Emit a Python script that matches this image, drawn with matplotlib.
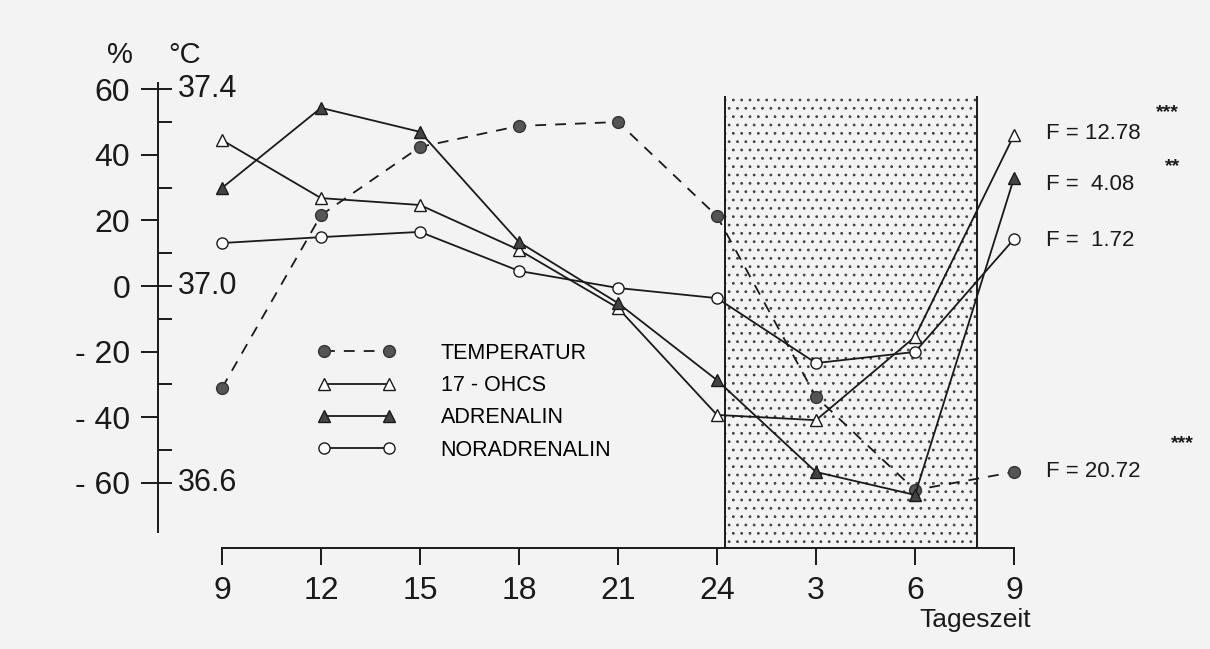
import matplotlib
matplotlib.use('Agg')
import matplotlib.pyplot as plt
from matplotlib.patches import Rectangle
from matplotlib.ticker import FixedLocator

# ---- data -------------------------------------------------------------
hours = ['9', '12', '15', '18', '21', '24', '3', '6', '9']
temperatur = [-31.1, 21.6, 42.4, 48.8, 50.0, 21.3, -33.8, -62.2, -56.7]
ohcs17 = [44.5, 26.8, 24.7, 11.0, -6.7, -39.3, -40.9, -15.5, 46.0]
adrenalin = [29.9, 54.3, 47.0, 13.4, -5.2, -28.7, -56.7, -63.7, 32.9]
noradrenalin = [13.1, 14.9, 16.5, 4.6, -0.6, -3.7, -23.5, -20.1, 14.3]
series_labels = ['TEMPERATUR', '17 - OHCS', 'ADRENALIN', 'NORADRENALIN']
f_labels = ['F = 20.72', 'F = 12.78', 'F =  4.08', 'F =  1.72']
f_stars = ['***', '***', '**', '']
pct_ticks = [60, 40, 20, 0, -20, -40, -60]
pct_labels = ['60', '40', '20', '0', '- 20', '- 40', '- 60']
pct_minor = [50, 30, 10, -10, -30, -50]
temp_ticks = [37.4, 37.0, 36.6]
temp_labels = ['37.4', '37.0', '36.6']
night_start, night_end = 5.08, 7.63   # in tick-index units
night_top = 58

plt.rcParams['font.family'] = ['Liberation Sans Narrow', 'Liberation Sans', 'DejaVu Sans']
plt.rcParams['hatch.linewidth'] = 0.8

BG = '#f3f3f3'
INK = '#1a1a1a'
fig = plt.figure(figsize=(12.1, 6.49), dpi=100, facecolor=BG)
ax = fig.add_axes([0, 0, 1, 1], facecolor=BG)
ax.set_xlim(-2.2424, 9.98)
ax.set_ylim(-110.67, 87.2)

x = list(range(len(hours)))
AXIS_Y = -80
SPINE_X = -0.646

# night shading
ax.add_patch(Rectangle((night_start, AXIS_Y), night_end - night_start,
                       night_top - AXIS_Y, facecolor='none', edgecolor='#444444',
                       lw=0, hatch='..', zorder=1))
ax.vlines([night_start, night_end], AXIS_Y, night_top, color=INK, lw=1.4, zorder=2)

# series
lw = 1.3
l1, = ax.plot(x, temperatur, color=INK, lw=lw, ls=(0, (6, 5)), marker='o', ms=8.5,
              mfc='#555555', mec='#333333', mew=1, label=series_labels[0], zorder=4)
l2, = ax.plot(x, ohcs17, color=INK, lw=lw, marker='^', ms=8.5, mfc='white',
              mec=INK, mew=1, label=series_labels[1], zorder=4)
l3, = ax.plot(x, adrenalin, color=INK, lw=lw, marker='^', ms=8.5, mfc='#444444',
              mec=INK, mew=1, label=series_labels[2], zorder=4)
l4, = ax.plot(x, noradrenalin, color=INK, lw=lw, marker='o', ms=8, mfc='white',
              mec=INK, mew=1, label=series_labels[3], zorder=4)

# axes / spines
for s in ('top', 'right'):
    ax.spines[s].set_visible(False)
ax.spines['left'].set_position(('data', SPINE_X))
ax.spines['left'].set_bounds(-75, 62)
ax.spines['bottom'].set_position(('data', AXIS_Y))
ax.spines['bottom'].set_bounds(0, 8)
for s in ('left', 'bottom'):
    ax.spines[s].set_linewidth(1.4)
    ax.spines[s].set_color(INK)

ax.set_yticks(pct_ticks, pct_labels)
ax.yaxis.set_minor_locator(FixedLocator(pct_minor + [60, 0, -60]))
ax.yaxis.remove_overlapping_locs = False
ax.tick_params(axis='y', which='major', direction='out', length=12, width=1.4,
               pad=8, labelsize=23, colors=INK)
ax.tick_params(axis='y', which='minor', direction='in', length=10, width=1.4,
               colors=INK)
ax.set_xticks(x, hours)
ax.tick_params(axis='x', direction='out', length=12, width=1.4, pad=8,
               labelsize=23, colors=INK)

# temperature scale labels
for t, lab in zip(temp_ticks, temp_labels):
    ax.text(-0.444, (t - 37.0) * 150, lab, ha='left', va='center',
            fontsize=22, color=INK)

ax.text(-1.03, 70.4, '%', ha='center', va='center', fontsize=21, color=INK)
ax.text(-0.374, 70.4, '°C', ha='center', va='center', fontsize=21, color=INK)
ax.text(7.606, -101.8, 'Tageszeit', ha='center', va='center', fontsize=19, color=INK)

# F statistics
f_y = [-56.7, 46.6, 30.8, 14.0]
star_pos = [(9.7, -48.0), (9.55, 53.0), (9.6, 36.5), (9.6, 20)]
for lab, yy, st, sp in zip(f_labels, f_y, f_stars, star_pos):
    ax.text(8.32, yy, lab, ha='left', va='center', fontsize=16, color=INK)
    if st:
        ax.text(sp[0], sp[1], st, ha='center', va='center', fontsize=14,
                color=INK, fontweight='bold')

leg = ax.legend(handles=[l1, l2, l3, l4], loc='upper left',
                bbox_to_anchor=(318 / 1210, 1 - 343 / 649),
                bbox_transform=fig.transFigure, frameon=False, numpoints=2,
                handlelength=3.6, handletextpad=2.1, labelspacing=0.52,
                borderpad=0, borderaxespad=0,
                prop={'family': ['Liberation Sans', 'DejaVu Sans'], 'size': 15.5})

fig.savefig('out.png', dpi=100, facecolor=BG)
